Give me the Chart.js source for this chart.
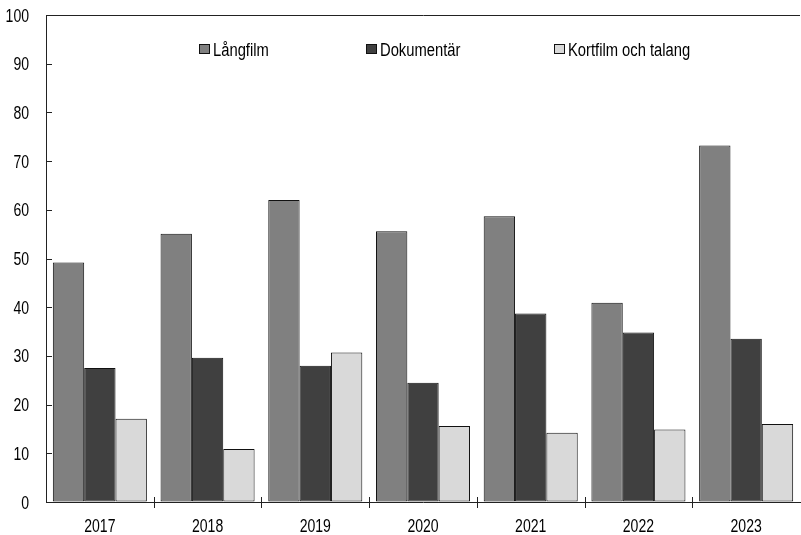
<!DOCTYPE html>
<html>
<head>
<meta charset="utf-8">
<script src="https://cdn.jsdelivr.net/npm/chart.js@4"></script>
<style>
  html, body { margin: 0; padding: 0; background: #fff; }
  #wrap { width: 801px; height: 535px; }
</style>
</head>
<body>
<div id="wrap"><canvas id="chart" width="801" height="535"></canvas></div>
<script>
// --- data ---
const years = ['2017', '2018', '2019', '2020', '2021', '2022', '2023'];
const langfilm = [49.2, 55.1, 62.0, 55.6, 58.7, 40.9, 73.2];
const dokumentar = [27.5, 29.6, 28.0, 24.5, 38.7, 34.8, 33.5];
const kortfilm = [17.1, 10.9, 30.7, 15.6, 14.2, 14.9, 16.0];
const seriesNames = ['Långfilm', 'Dokumentär', 'Kortfilm och talang'];
const yTicks = [0, 10, 20, 30, 40, 50, 60, 70, 80, 90, 100];

// no condensed face installed, so text is squeezed by hand
const FONT = "18px 'Liberation Sans', Arial, sans-serif";
const fills = ['#808080', '#404040', '#d9d9d9'];

function narrowText(ctx, text, x, y, align, sx) {
    ctx.save();
    ctx.translate(x, y);
    ctx.scale(sx, 1);
    ctx.textAlign = align;
    ctx.textBaseline = 'alphabetic';
    ctx.fillText(text, 0, 0);
    ctx.restore();
}

// tick labels, inward y ticks, crossing x ticks, legend in the plot
const decorations = {
    id: 'decorations',
    afterDraw(chart) {
        const ctx = chart.ctx;
        const area = chart.chartArea;
        const x = chart.scales.x, y = chart.scales.y;
        ctx.save();
        ctx.strokeStyle = '#222';
        ctx.lineWidth = 1;
        ctx.beginPath();
        yTicks.forEach(v => {
            const py = Math.round(y.getPixelForValue(v)) + 0.5;
            ctx.moveTo(area.left, py);
            ctx.lineTo(area.left + 6, py);
        });
        for (let i = 1; i < years.length; i++) {
            const px = Math.round((x.getPixelForValue(i - 1) + x.getPixelForValue(i)) / 2) + 0.5;
            ctx.moveTo(px, area.bottom - 5);
            ctx.lineTo(px, area.bottom + 6);
        }
        ctx.stroke();

        ctx.font = FONT;
        ctx.fillStyle = '#000';
        yTicks.forEach(v => {
            narrowText(ctx, String(v), 29, y.getPixelForValue(v) + 6.5, 'right', 0.78);
        });
        years.forEach((yr, i) => {
            narrowText(ctx, yr, x.getPixelForValue(i), area.bottom + 30, 'center', 0.78);
        });

        // legend
        const legendX = [199, 366, 554];
        chart.data.datasets.forEach((ds, i) => {
            ctx.fillStyle = ds.backgroundColor;
            ctx.fillRect(legendX[i] + 0.5, 44.5, 10, 9);
            ctx.strokeStyle = '#111';
            ctx.strokeRect(legendX[i] + 0.5, 44.5, 10, 9);
            ctx.fillStyle = '#000';
            narrowText(ctx, ds.label, legendX[i] + 14, 55.5, 'left', 0.82);
        });
        ctx.restore();
    }
};

new Chart(document.getElementById('chart'), {
    type: 'bar',
    data: {
        labels: years,
        datasets: [langfilm, dokumentar, kortfilm].map((d, i) => ({
            label: seriesNames[i],
            data: d,
            backgroundColor: fills[i],
            borderColor: '#111',
            borderWidth: 1,
            borderSkipped: false,
            barPercentage: 1.0,
            categoryPercentage: 0.873
        }))
    },
    options: {
        responsive: false,
        animation: false,
        layout: { padding: { top: 15, right: 1, left: 0, bottom: 0 } },
        plugins: { legend: { display: false }, tooltip: { enabled: false } },
        scales: {
            x: {
                grid: { display: false, drawTicks: false },
                border: { display: true, color: '#222', width: 1 },
                ticks: { display: false },
                afterFit(scale) { scale.height = 33; }
            },
            y: {
                min: 0,
                max: 100,
                afterBuildTicks(scale) { scale.ticks = yTicks.map(v => ({ value: v })); },
                grid: {
                    drawTicks: false,
                    color: c => (c.tick && c.tick.value === 100 ? '#222' : 'rgba(0,0,0,0)')
                },
                border: { display: true, color: '#222', width: 1 },
                ticks: { display: false },
                afterFit(scale) { scale.width = 46; }
            }
        }
    },
    plugins: [decorations]
});
</script>
</body>
</html>
